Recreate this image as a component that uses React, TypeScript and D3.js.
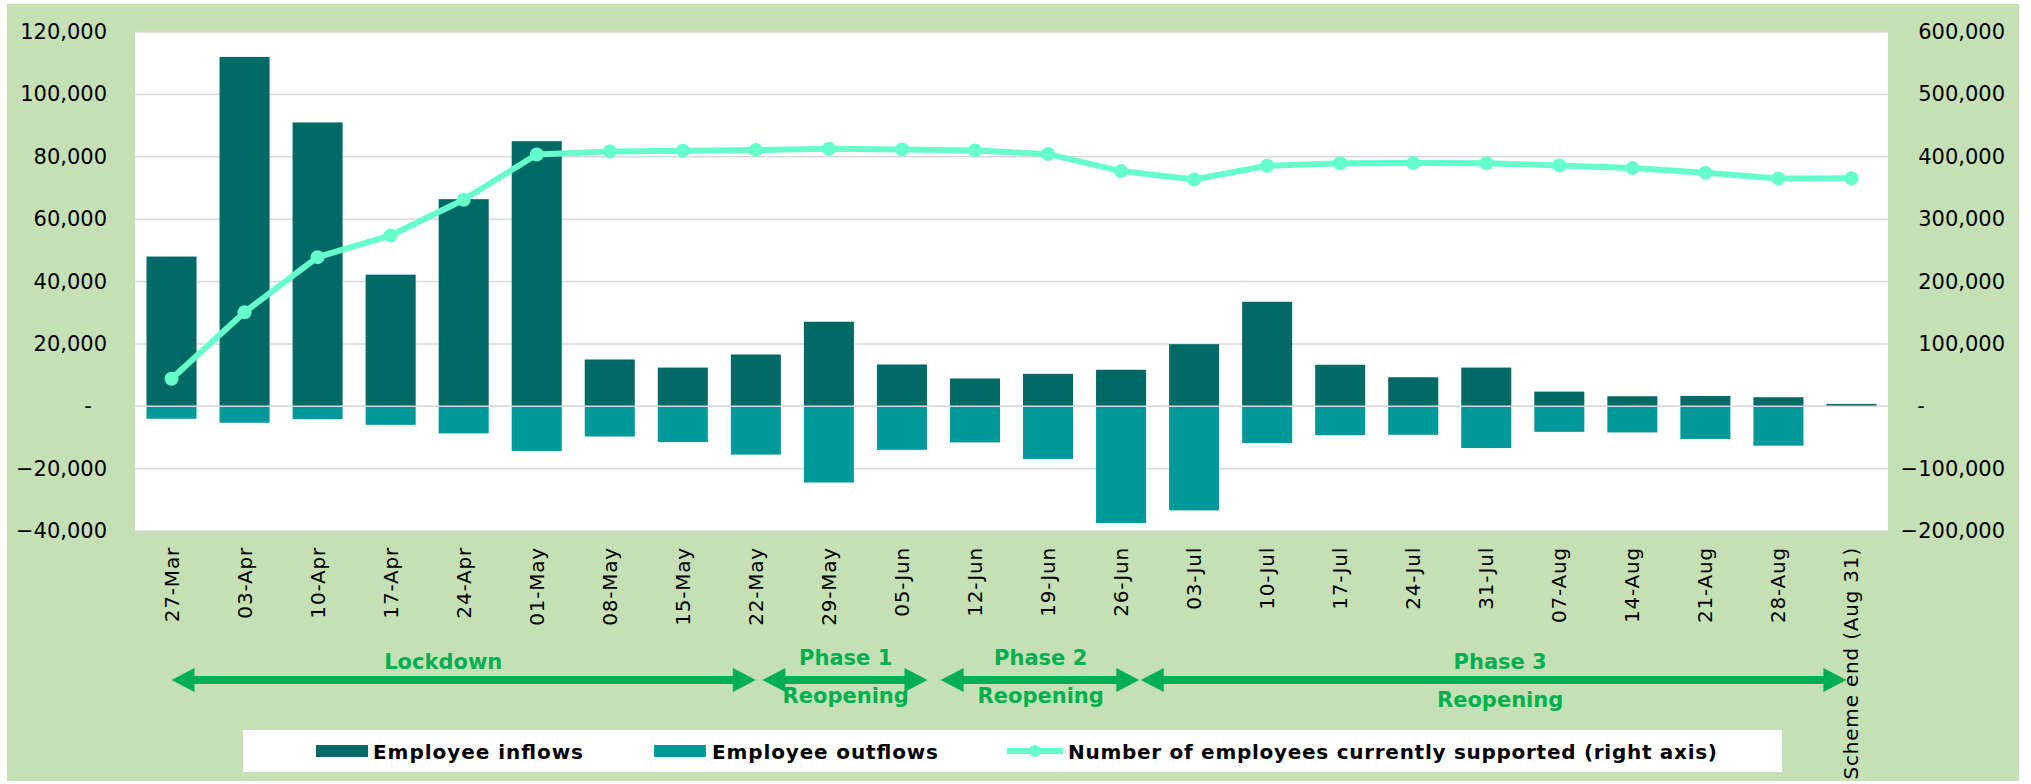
import React from 'react';
import * as d3 from 'd3';

// weekly data
const categories = [
  '27-Mar', '03-Apr', '10-Apr', '17-Apr', '24-Apr', '01-May', '08-May', '15-May',
  '22-May', '29-May', '05-Jun', '12-Jun', '19-Jun', '26-Jun', '03-Jul', '10-Jul',
  '17-Jul', '24-Jul', '31-Jul', '07-Aug', '14-Aug', '21-Aug', '28-Aug', 'Scheme end (Aug 31)',
];
const inflows = [
  48000, 112000, 91000, 42200, 66400, 85000, 15000, 12400, 16600, 27100, 13400, 8900,
  10400, 11700, 19900, 33500, 13300, 9300, 12400, 4700, 3200, 3300, 2900, 750,
];
const outflows = [
  -4000, -5300, -4150, -5950, -8700, -14350, -9700, -11500, -15500, -24450, -13950, -11600,
  -16900, -37450, -33400, -11800, -9250, -9150, -13400, -8200, -8400, -10500, -12650, 0,
];
const supported = [
  44000, 150800, 239000, 273800, 331000, 403700, 408600, 409600, 410700, 412800, 411800, 410200,
  404300, 377000, 363600, 385600, 389500, 389800, 389600, 386100, 381800, 374300, 365200, 365500,
];
const leftTicks = [-40000, -20000, 0, 20000, 40000, 60000, 80000, 100000, 120000];
const rightTicks = [-200000, -100000, 0, 100000, 200000, 300000, 400000, 500000, 600000];

// phase arrows: start/end as category positions
const phaseNames = ['Lockdown', 'Phase 1', 'Phase 2', 'Phase 3'];
const phaseSub = ['', 'Reopening', 'Reopening', 'Reopening'];
const phaseStart = [0, 8.09, 10.53, 13.27];
const phaseEnd = [8, 10.35, 13.25, 22.93];
const phaseLabelAt = [3.72, 9.23, 11.9, 18.19];

const legendNames = ['Employee inflows', 'Employee outflows', 'Number of employees currently supported (right axis)'];

const W = 2031;
const H = 784;
const plot = {left: 135, right: 1888, top: 32, bottom: 531};

const C_IN = '#016966';
const C_OUT = '#009999';
const C_LINE = '#66FFCC';
const C_BG = '#C5E0B4';
const C_GRID = '#D9D9D9';
const C_PHASE = '#00B050';
const FONT = '"DejaVu Sans", Verdana, sans-serif';

export default function App() {
  const x = d3
    .scaleBand()
    .domain(categories)
    .range([plot.left, plot.right])
    .paddingInner(0.315)
    .paddingOuter(0.1575);
  const step = x.step();
  const xc = (c: string) => (x(c) as number) + x.bandwidth() / 2;
  // fractional category position -> pixel
  const xp = (p: number) => plot.left + step * (p + 0.5);

  const yL = d3.scaleLinear().domain([-40000, 120000]).range([plot.bottom, plot.top]);
  const yR = d3.scaleLinear().domain([-200000, 600000]).range([plot.bottom, plot.top]);
  const fmt = d3.format(',');

  const line = d3
    .line<number>()
    .x((_, i) => xc(categories[i]))
    .y((d) => yR(d));

  const arrow = (x0: number, x1: number, y: number) => {
    const hl = 23;
    const hw = 12;
    const t = 4;
    return [
      `M${x0},${y}`,
      `L${x0 + hl},${y - hw}`,
      `L${x0 + hl},${y - t}`,
      `L${x1 - hl},${y - t}`,
      `L${x1 - hl},${y - hw}`,
      `L${x1},${y}`,
      `L${x1 - hl},${y + hw}`,
      `L${x1 - hl},${y + t}`,
      `L${x0 + hl},${y + t}`,
      `L${x0 + hl},${y + hw}`,
      'Z',
    ].join(' ');
  };

  return (
    <svg
      width={W}
      height={H}
      style={{position: 'absolute', left: 0, top: 0, display: 'block', background: '#fff'}}
      fontFamily={FONT}
    >
      <rect x={7} y={4} width={2012} height={777} fill={C_BG} />
      <rect x={plot.left} y={plot.top} width={plot.right - plot.left} height={plot.bottom - plot.top} fill="#fff" />

      {/* gridlines */}
      {leftTicks.map((t) => (
        <line key={'g' + t} x1={plot.left} x2={plot.right} y1={yL(t)} y2={yL(t)} stroke={C_GRID} strokeWidth={1.5} />
      ))}

      {/* bars */}
      {categories.map((c, i) => (
        <g key={'b' + c}>
          <rect x={x(c)} y={yL(inflows[i])} width={x.bandwidth()} height={yL(0) - yL(inflows[i])} fill={C_IN} />
          {outflows[i] !== 0 && (
            <rect x={x(c)} y={yL(0)} width={x.bandwidth()} height={yL(outflows[i]) - yL(0)} fill={C_OUT} />
          )}
        </g>
      ))}
      <line x1={plot.left} x2={plot.right} y1={yL(0)} y2={yL(0)} stroke={C_GRID} strokeWidth={1.5} />

      {/* supported line */}
      <path d={line(supported) || ''} fill="none" stroke={C_LINE} strokeWidth={6} strokeLinejoin="round" />
      {supported.map((v, i) => (
        <circle key={'m' + i} cx={xc(categories[i])} cy={yR(v)} r={7} fill={C_LINE} />
      ))}

      {/* left axis */}
      {leftTicks.map((t) =>
        t === 0 ? (
          <text key={'l' + t} x={88} y={yL(t)} textAnchor="middle" dominantBaseline="central" fontSize={21} fill="#000">
            -
          </text>
        ) : (
          <text key={'l' + t} x={107} y={yL(t)} textAnchor="end" dominantBaseline="central" fontSize={21} fill="#000">
            {fmt(t)}
          </text>
        )
      )}
      {/* right axis */}
      {rightTicks.map((t) =>
        t === 0 ? (
          <text key={'r' + t} x={1921} y={yR(t)} textAnchor="middle" dominantBaseline="central" fontSize={21} fill="#000">
            -
          </text>
        ) : (
          <text key={'r' + t} x={2005} y={yR(t)} textAnchor="end" dominantBaseline="central" fontSize={21} fill="#000">
            {fmt(t)}
          </text>
        )
      )}

      {/* x labels */}
      {categories.map((c) => (
        <text
          key={'x' + c}
          transform={`translate(${xc(c)},${plot.bottom + 16}) rotate(-90)`}
          textAnchor="end"
          dominantBaseline="central"
          fontSize={20}
          letterSpacing={0.8}
          fill="#000"
        >
          {c}
        </text>
      ))}

      {/* phases */}
      {phaseNames.map((p, i) => {
        const low = i === 0 || i === 3 ? 4 : 0;
        return (
          <g key={'p' + p}>
            <path d={arrow(xp(phaseStart[i]), xp(phaseEnd[i]), 680)} fill={C_PHASE} />
            <text x={xp(phaseLabelAt[i])} y={665 + low} textAnchor="middle" fontSize={21} fontWeight="bold" fill={C_PHASE}>
              {p}
            </text>
            {phaseSub[i] && (
              <text x={xp(phaseLabelAt[i])} y={703 + low} textAnchor="middle" fontSize={21} fontWeight="bold" fill={C_PHASE}>
                {phaseSub[i]}
              </text>
            )}
          </g>
        );
      })}

      {/* legend */}
      <rect x={243} y={730} width={1539} height={42} fill="#fff" />
      <rect x={316} y={745} width={52} height={12} fill={C_IN} />
      <text x={373} y={759} fontSize={20} fontWeight="bold" fill="#000" textLength={210} lengthAdjust="spacing">
        {legendNames[0]}
      </text>
      <rect x={654} y={745} width={52} height={12} fill={C_OUT} />
      <text x={712} y={759} fontSize={20} fontWeight="bold" fill="#000" textLength={226} lengthAdjust="spacing">
        {legendNames[1]}
      </text>
      <line x1={1007} x2={1063} y1={751} y2={751} stroke={C_LINE} strokeWidth={6} />
      <circle cx={1035} cy={751} r={6} fill={C_LINE} />
      <text x={1068} y={759} fontSize={20} fontWeight="bold" fill="#000" textLength={649} lengthAdjust="spacing">
        {legendNames[2]}
      </text>
    </svg>
  );
}
